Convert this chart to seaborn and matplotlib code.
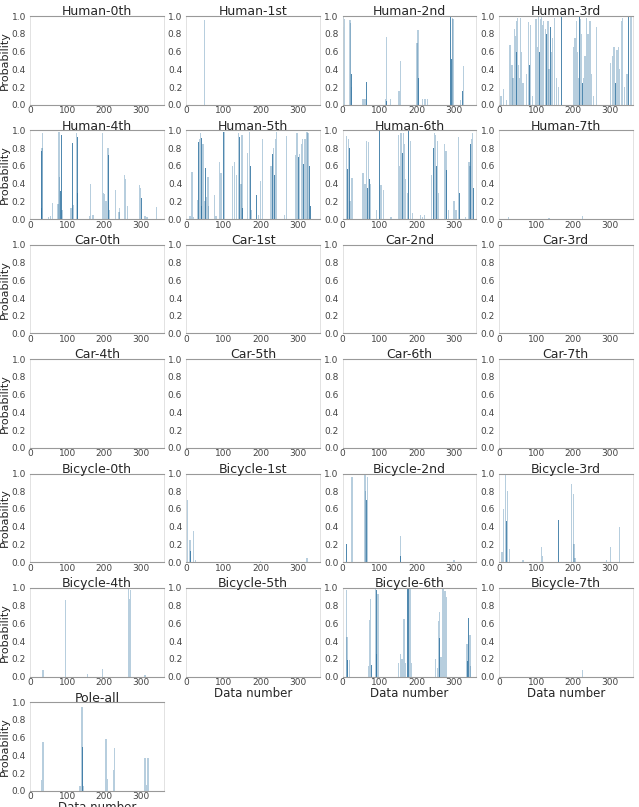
import numpy as np
import pandas as pd
import matplotlib
matplotlib.use("Agg")
import matplotlib.pyplot as plt
import seaborn as sns

N_DATA = 360

objects = ["Human", "Car", "Bicycle"]
orders = ["0th", "1st", "2nd", "3rd", "4th", "5th", "6th", "7th"]

# spikes: (data number, probability)
human_1st_light = [(48, 0.96)]
human_1st_dark = []

human_2nd_light = [(5, 0.97), (20, 0.96), (22, 0.92), (23, 0.2), (55, 0.07), (60, 0.06),
                   (115, 0.06), (118, 0.77), (128, 0.07), (152, 0.15), (155, 0.49),
                   (200, 0.7), (203, 0.84), (215, 0.07), (222, 0.06), (228, 0.07),
                   (295, 0.98), (297, 0.97), (318, 0.05), (325, 0.44)]
human_2nd_dark = [(1, 1.0), (3, 0.88), (25, 0.35), (65, 0.26), (119, 0.04), (204, 0.3),
                  (290, 1.0), (292, 0.52), (322, 0.15)]

human_3rd_light = [(5, 0.1), (12, 0.18), (20, 0.05), (30, 0.67), (35, 0.45), (38, 0.3),
                   (42, 0.85), (45, 0.78), (48, 0.95), (50, 0.98), (53, 0.45), (55, 0.3),
                   (58, 0.98), (60, 0.6), (65, 0.25), (75, 0.35), (80, 0.93), (85, 0.9),
                   (90, 0.1), (100, 0.97), (103, 0.65), (107, 1.0), (112, 0.97), (115, 1.0),
                   (118, 0.9), (120, 0.95), (125, 0.85), (132, 0.95), (135, 0.4), (142, 0.6),
                   (145, 0.75), (150, 0.98), (155, 0.3), (160, 0.2), (200, 0.65), (205, 0.75),
                   (208, 0.95), (212, 0.6), (215, 0.3), (220, 0.97), (223, 0.8), (228, 0.3),
                   (232, 0.55), (235, 0.98), (240, 0.8), (245, 0.95), (250, 0.35), (255, 0.1),
                   (262, 0.88), (300, 0.47), (305, 0.55), (310, 0.65), (318, 0.62), (322, 0.65),
                   (325, 0.4), (330, 0.95), (333, 0.98), (338, 0.2), (345, 0.35), (356, 1.0)]
human_3rd_dark = [(47, 0.6), (82, 0.45), (110, 0.6), (128, 0.8), (138, 0.88), (168, 1.0),
                  (218, 1.0), (226, 0.25), (313, 0.25), (350, 1.0), (353, 1.0)]

human_4th_light = [(33, 0.97), (32, 0.8), (50, 0.02), (55, 0.03), (60, 0.18), (75, 0.17),
                   (78, 0.98), (80, 0.47), (86, 0.1), (110, 0.12), (118, 0.16), (125, 0.97),
                   (160, 0.04), (163, 0.4), (170, 0.05), (195, 0.97), (198, 0.3), (200, 0.28),
                   (205, 0.2), (210, 0.8), (215, 0.1), (230, 0.33), (240, 0.08), (242, 0.12),
                   (255, 0.5), (258, 0.45), (262, 0.15), (295, 0.39), (298, 0.35),
                   (310, 0.03), (315, 0.02), (340, 0.14)]
human_4th_dark = [(30, 0.77), (31, 0.12), (82, 0.32), (84, 0.95), (115, 0.86), (127, 0.93),
                  (128, 0.3), (212, 0.72), (300, 0.24)]

human_5th_light = [(10, 0.03), (15, 0.53), (20, 0.02), (30, 0.22), (35, 0.9), (38, 0.97),
                   (45, 0.85), (50, 0.2), (55, 0.25), (58, 0.48), (60, 0.15), (75, 0.27),
                   (80, 0.03), (90, 0.65), (93, 0.52), (102, 0.98), (125, 0.6), (130, 0.65),
                   (135, 0.5), (140, 0.97), (147, 0.4), (150, 0.95), (165, 0.75), (170, 0.98),
                   (175, 0.1), (195, 0.05), (200, 0.43), (205, 0.9), (228, 0.6), (235, 0.8),
                   (240, 0.9), (243, 0.98), (265, 0.05), (270, 0.94), (295, 0.72), (298, 0.97),
                   (305, 0.73), (310, 0.85), (313, 0.9), (320, 0.9), (325, 0.98), (328, 0.97)]
human_5th_dark = [(32, 0.87), (40, 0.92), (42, 0.15), (52, 0.58), (100, 0.98), (143, 0.93),
                  (152, 0.12), (172, 0.6), (190, 0.27), (232, 0.74), (238, 0.5),
                  (302, 0.7), (316, 0.62), (332, 0.6), (335, 0.15)]

human_6th_light = [(10, 0.94), (16, 0.9), (20, 0.2), (25, 0.46), (55, 0.52), (60, 0.4),
                   (65, 0.88), (70, 0.87), (75, 0.4), (92, 0.1), (103, 0.38), (110, 0.33),
                   (130, 0.02), (150, 0.95), (153, 0.6), (157, 0.97), (163, 0.97), (167, 0.85),
                   (170, 0.45), (175, 0.3), (183, 0.88), (188, 0.07), (210, 0.05), (215, 0.02),
                   (220, 0.05), (240, 0.5), (248, 0.97), (250, 0.95), (255, 0.88), (258, 0.3),
                   (275, 0.85), (278, 0.77), (285, 0.1), (300, 0.2), (305, 0.1), (312, 0.93),
                   (330, 0.02), (340, 0.65), (343, 0.6), (348, 0.9), (350, 0.97)]
human_6th_dark = [(13, 0.57), (18, 0.8), (67, 0.35), (72, 0.45), (98, 1.0), (160, 0.75),
                  (178, 1.0), (245, 0.8), (253, 0.6), (280, 0.55), (315, 0.3), (345, 0.85),
                  (352, 0.35)]

human_7th_light = [(25, 0.02), (135, 0.01), (225, 0.04)]
human_7th_dark = []

bicycle_1st_light = [(2, 0.7), (10, 0.25), (20, 0.35), (25, 0.02), (200, 0.01), (325, 0.05)]
bicycle_1st_dark = [(12, 0.13)]

bicycle_2nd_light = [(25, 0.96), (60, 1.0), (62, 0.8), (66, 0.96), (155, 0.3), (300, 0.02)]
bicycle_2nd_dark = [(10, 0.2), (63, 0.7), (157, 0.07)]

bicycle_3rd_light = [(8, 0.12), (12, 0.6), (18, 1.0), (22, 0.8), (28, 0.15), (65, 0.03),
                     (115, 0.17), (118, 0.07), (195, 0.88), (200, 0.77), (202, 0.2),
                     (205, 0.05), (290, 0.03), (300, 0.17), (325, 0.4)]
bicycle_3rd_dark = [(20, 0.47), (160, 0.48)]

bicycle_4th_light = [(35, 0.07), (95, 0.86), (155, 0.03), (195, 0.08), (265, 1.0),
                     (268, 0.87), (270, 0.98), (310, 0.02)]
bicycle_4th_dark = [(97, 0.2), (272, 0.42)]

bicycle_6th_light = [(10, 0.98), (12, 0.45), (18, 0.19), (70, 0.12), (72, 0.64), (75, 0.87),
                     (88, 1.0), (95, 0.93), (150, 0.15), (155, 0.25), (160, 0.2), (165, 0.65),
                     (170, 0.15), (181, 1.0), (185, 0.15), (250, 0.2), (255, 0.1), (258, 0.63),
                     (260, 0.73), (265, 0.22), (270, 1.0), (276, 0.97), (279, 0.9),
                     (335, 0.37), (343, 0.47), (345, 0.12)]
bicycle_6th_dark = [(14, 0.19), (77, 0.13), (90, 0.98), (92, 0.25), (175, 1.0), (178, 0.99),
                    (262, 0.43), (273, 0.55), (337, 0.17), (340, 0.66)]

bicycle_7th_light = [(225, 0.07)]
bicycle_7th_dark = []

pole_all_light = [(30, 0.12), (35, 0.55), (135, 0.05), (140, 0.95), (145, 0.05), (205, 0.58),
                  (208, 0.13), (225, 0.23), (228, 0.48), (310, 0.37), (313, 0.07), (318, 0.37)]
pole_all_dark = [(142, 0.49)]

spikes = {
    "Human-1st": (human_1st_light, human_1st_dark),
    "Human-2nd": (human_2nd_light, human_2nd_dark),
    "Human-3rd": (human_3rd_light, human_3rd_dark),
    "Human-4th": (human_4th_light, human_4th_dark),
    "Human-5th": (human_5th_light, human_5th_dark),
    "Human-6th": (human_6th_light, human_6th_dark),
    "Human-7th": (human_7th_light, human_7th_dark),
    "Bicycle-1st": (bicycle_1st_light, bicycle_1st_dark),
    "Bicycle-2nd": (bicycle_2nd_light, bicycle_2nd_dark),
    "Bicycle-3rd": (bicycle_3rd_light, bicycle_3rd_dark),
    "Bicycle-4th": (bicycle_4th_light, bicycle_4th_dark),
    "Bicycle-6th": (bicycle_6th_light, bicycle_6th_dark),
    "Bicycle-7th": (bicycle_7th_light, bicycle_7th_dark),
    "Pole-all": (pole_all_light, pole_all_dark),
}

titles = [f"{obj}-{o}" for obj in objects for o in orders] + ["Pole-all"]


def to_frame(points):
    """Expand the spike list into one probability per data number."""
    prob = np.zeros(N_DATA)
    for idx, p in points:
        prob[idx] = max(prob[idx], p)
    return pd.DataFrame({"data": np.arange(N_DATA), "prob": prob})


sns.set_style("white")
plt.rcParams['font.family'] = ['DejaVu Sans']

fig, axes = plt.subplots(7, 4, figsize=(6.39, 8.07), dpi=100)
fig.subplots_adjust(left=0.047, right=0.99, top=0.98, bottom=0.02, wspace=0.17, hspace=0.29)
flat = axes.ravel()

for i, ax in enumerate(flat):
    if i >= len(titles):
        ax.set_visible(False)
        continue
    title = titles[i]
    light, dark = spikes.get(title, ([], []))
    if light:
        sns.barplot(data=to_frame(light), x="data", y="prob", native_scale=True,
                    color="#1f77b4", alpha=0.35, width=3.5, linewidth=0, ax=ax)
    if dark:
        sns.barplot(data=to_frame(dark), x="data", y="prob", native_scale=True,
                    color="#1f77b4", alpha=0.85, width=2.5, linewidth=0, ax=ax)
    ax.set_xlim(0, N_DATA)
    ax.set_ylim(0, 1.0)
    ax.set_xticks([0, 100, 200, 300])
    ax.set_yticks([0, 0.2, 0.4, 0.6, 0.8, 1.0])
    ax.set_yticklabels(["0.0", "0.2", "0.4", "0.6", "0.8", "1.0"])
    ax.tick_params(axis="both", labelsize=6.5, length=2, width=0.5, pad=1, colors="#444444")
    ax.tick_params(axis="x", length=0)
    ax.set_title(title, fontsize=9, pad=0.5)
    ax.set_xlabel("")
    ax.set_ylabel("")
    for side in ["top", "bottom"]:
        ax.spines[side].set_color("#999999")
        ax.spines[side].set_linewidth(0.8)
    for side in ["left", "right"]:
        ax.spines[side].set_color("#dddddd")
        ax.spines[side].set_linewidth(0.6)
    if i % 4 == 0:
        ax.set_ylabel("Probability", fontsize=8, labelpad=1)
    if i in (21, 22, 23, 24):
        ax.set_xlabel("Data number", fontsize=8.5, labelpad=0)

fig.savefig("out.png", dpi=100)
